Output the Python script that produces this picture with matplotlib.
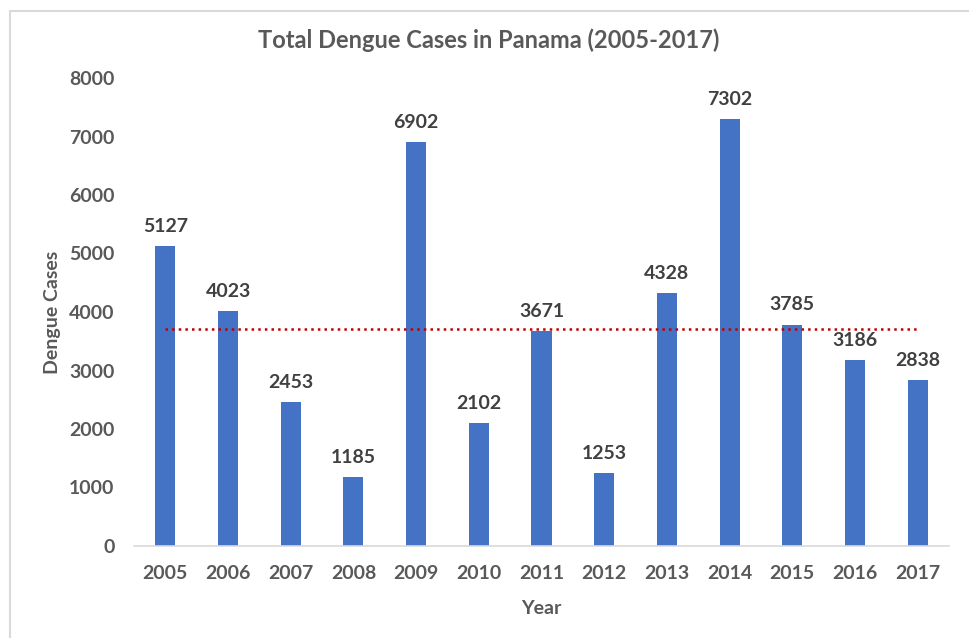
import matplotlib.pyplot as plt
from matplotlib.patches import Rectangle

years = ['2005', '2006', '2007', '2008', '2009', '2010', '2011',
         '2012', '2013', '2014', '2015', '2016', '2017']
cases = [5127, 4023, 2453, 1185, 6902, 2102, 3671,
         1253, 4328, 7302, 3785, 3186, 2838]
mean_cases = 3704  # average line shown in the chart

plt.rcParams['font.family'] = ['Lato', 'DejaVu Sans']
plt.rcParams['font.weight'] = 'bold'

fig = plt.figure(figsize=(9.69, 6.38), dpi=100)
ax = fig.add_axes([134 / 969, 1 - 546 / 638, (949 - 134) / 969, (546 - 78) / 638])

# light frame around the chart
fig.patches.append(Rectangle((10 / 969, -0.1), 1.1, 1 - 11 / 638 + 0.1,
                             transform=fig.transFigure, fill=False,
                             edgecolor='#D9D9D9', linewidth=1.5))

x = list(range(len(years)))
bars = ax.bar(x, cases, width=0.32, color='#4472C4', zorder=2)
for xi, v in zip(x, cases):
    ax.annotate(str(v), (xi, v), xytext=(0, 8), textcoords='offset points',
                ha='center', va='bottom', fontsize=14, fontweight='bold',
                color='#404040')

ax.plot([x[0], x[-1]], [mean_cases, mean_cases], linestyle=':', color='#C00000',
        linewidth=1.8, zorder=3)

ax.set_xlim(-0.5, len(years) - 0.5)
ax.set_ylim(0, 8000)
ax.set_yticks(range(0, 8001, 1000))
ax.set_xticks(x)
ax.set_xticklabels(years)
ax.tick_params(axis='both', length=0, labelsize=14, labelcolor='#595959')
ax.tick_params(axis='y', pad=14)
ax.tick_params(axis='x', pad=14)
for lbl in ax.get_xticklabels() + ax.get_yticklabels():
    lbl.set_fontweight('bold')

for side in ['top', 'right', 'left']:
    ax.spines[side].set_visible(False)
ax.spines['bottom'].set_color('#D9D9D9')
ax.spines['bottom'].set_linewidth(1.2)

ax.set_xlabel('Year', fontsize=14, fontweight='bold', color='#595959', labelpad=13)
ax.set_ylabel('Dengue Cases', fontsize=14, fontweight='bold', color='#595959', labelpad=6)
fig.text(489 / 969, 1 - 40 / 638, 'Total Dengue Cases in Panama (2005-2017)',
         ha='center', va='center', fontsize=17, fontweight='bold', color='#595959')

fig.savefig('out.png', dpi=100)
